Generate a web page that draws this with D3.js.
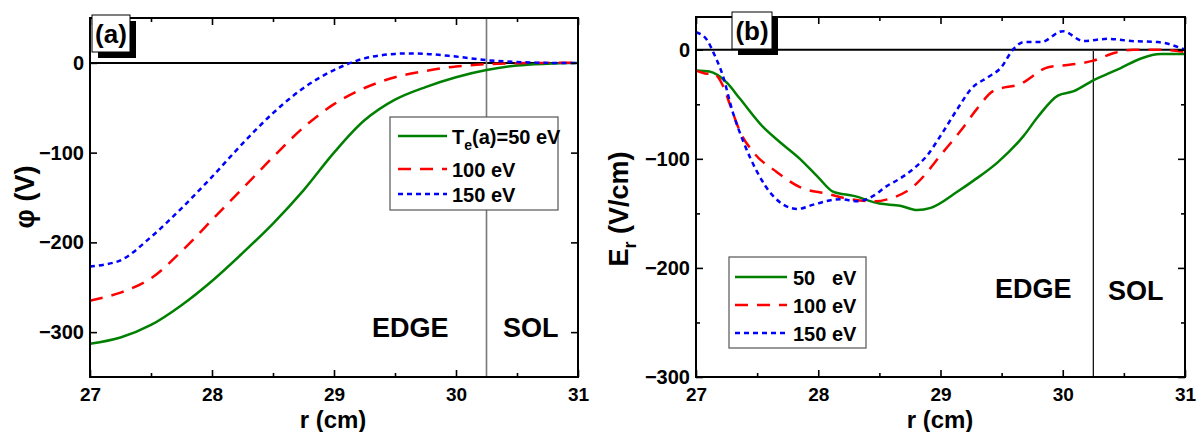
<!DOCTYPE html>
<html><head><meta charset="utf-8">
<script src="https://cdn.jsdelivr.net/npm/d3@7"></script>
<style>
body{margin:0;background:#fff;}
text{font-family:"Liberation Sans",Arial,sans-serif;font-weight:bold;fill:#000;}
</style></head>
<body><svg id="c" width="1198" height="432"></svg>
<script>
// ---------- DATA ----------
// panel (a): potential phi (V) vs r (cm)
const rA = [27,27.25,27.5,27.75,28,28.25,28.5,28.75,29,29.25,29.5,29.75,30,30.25,30.5,30.75,31];
const phi50  = [-313,-306,-292,-270,-243,-212,-179,-142,-100,-64,-41,-27,-16,-8,-3,-1,0];
const phi100 = [-265,-256,-240,-210,-175,-140,-105,-72,-46,-28,-16,-9,-4,-1.5,-0.5,0,0];
const phi150 = [-227,-220,-194,-162,-127,-90,-56,-28,-8,5,10,10,7,3,1,0,0];
// panel (b): radial field Er (V/cm) vs r (cm)
const rB50  = [27,27.11,27.25,27.36,27.55,27.69,27.85,28.0,28.12,28.29,28.5,28.67,28.81,28.92,29.14,29.27,29.47,29.68,29.8,29.96,30.09,30.25,30.37,30.47,30.64,30.8,31];
const er50  = [-19,-20,-30,-45,-71,-85,-100,-117,-130,-134,-141,-143,-147,-145,-130,-120,-103,-79,-61,-42,-38,-28,-22,-17,-8,-4,-4];
const rB100 = [27,27.09,27.14,27.22,27.28,27.36,27.47,27.66,27.85,28.07,28.26,28.45,28.6,28.72,28.81,29.02,29.16,29.3,29.43,29.66,29.88,30.04,30.25,30.42,30.58,30.8,31];
const er100 = [-19,-22,-22,-33,-51,-75,-94,-112,-126,-132,-137,-139,-136,-130,-122,-94,-75,-54,-38,-31,-16,-14,-10,-3,0,0,-2];
const rB150 = [27,27.09,27.14,27.22,27.3,27.39,27.5,27.63,27.83,27.96,28.18,28.32,28.45,28.56,28.67,28.78,28.89,29,29.14,29.25,29.39,29.49,29.6,29.68,29.82,30,30.17,30.37,30.56,30.78,31];
const er150 = [16,9,-2,-24,-57,-85,-112,-134,-146,-142,-137,-139,-134,-125,-118,-109,-97,-79,-54,-36,-25,-17,1,7,7,17,8,10,8,7,0];
const xTicks = [27,28,29,30,31];
const yTicksA = [0,-100,-200,-300];
const yTicksB = [0,-100,-200,-300];
const legendA = ["=50 eV","100 eV","150 eV"];
const legendB = ["50   eV","100 eV","150 eV"];
const boundaryR = 30.25;

// ---------- STYLES ----------
const colors = ["#008000","#ff0000","#0000ff"];
const dashes = [null,"13,9","5,4"];

const svg = d3.select("#c");

function panel(cfg){
  const g = svg.append("g");
  const x = d3.scaleLinear().domain([27,31]).range([cfg.x0,cfg.x1]);
  const y = d3.scaleLinear().domain(cfg.ydom).range([cfg.y1,cfg.y0]);

  g.append("line").attr("x1",x(27)).attr("x2",x(31)).attr("y1",y(0)).attr("y2",y(0))
    .attr("stroke","#000").attr("stroke-width",2);
  g.append("line").attr("x1",x(boundaryR)).attr("x2",x(boundaryR)).attr("y1",cfg.y1).attr("y2",cfg.bTop)
    .attr("stroke",cfg.bColor).attr("stroke-width",cfg.bW);

  const line = d3.line().x(d=>x(d[0])).y(d=>y(d[1])).curve(cfg.curve);
  cfg.series.forEach((s,i)=>{
    g.append("path").datum(s[0].map((r,j)=>[r,s[1][j]]))
      .attr("d",line).attr("fill","none").attr("stroke",colors[i])
      .attr("stroke-width",2.5).attr("stroke-dasharray",dashes[i]);
  });

  const majX = xTicks, minX = d3.range(27.5,31,1);
  const majY = cfg.yTicks, minY = d3.range(cfg.ydom[0]+50, cfg.ydom[1], 100).filter(v=>v%100!==0);
  const mk = (ax, sel) => { sel.call(ax); sel.select(".domain").remove(); sel.selectAll(".tick line").attr("stroke","#000").attr("stroke-width",1.6); return sel;};
  const gb = mk(d3.axisBottom(x).tickValues(majX).tickSize(-7).tickFormat(d3.format("d")),
     g.append("g").attr("transform",`translate(0,${cfg.y1})`));
  gb.selectAll("text").attr("font-size",19).attr("dy",null).attr("y",24);
  mk(d3.axisBottom(x).tickValues(minX).tickSize(-4).tickFormat(""), g.append("g").attr("transform",`translate(0,${cfg.y1})`));
  mk(d3.axisTop(x).tickValues(majX).tickSize(-7).tickFormat(""), g.append("g").attr("transform",`translate(0,${cfg.y0})`));
  mk(d3.axisTop(x).tickValues(minX).tickSize(-4).tickFormat(""), g.append("g").attr("transform",`translate(0,${cfg.y0})`));
  const gl = mk(d3.axisLeft(y).tickValues(majY).tickSize(-7).tickPadding(6).tickFormat(d=>d===0?"0":d3.format("d")(d)),
     g.append("g").attr("transform",`translate(${cfg.x0},0)`));
  gl.selectAll("text").attr("font-size",20);
  mk(d3.axisLeft(y).tickValues(minY).tickSize(-4).tickFormat(""), g.append("g").attr("transform",`translate(${cfg.x0},0)`));
  mk(d3.axisRight(y).tickValues(majY).tickSize(-7).tickFormat(""), g.append("g").attr("transform",`translate(${cfg.x1},0)`));
  mk(d3.axisRight(y).tickValues(minY).tickSize(-4).tickFormat(""), g.append("g").attr("transform",`translate(${cfg.x1},0)`));
  g.append("rect").attr("x",cfg.x0).attr("y",cfg.y0).attr("width",cfg.x1-cfg.x0).attr("height",cfg.y1-cfg.y0)
    .attr("fill","none").attr("stroke","#000").attr("stroke-width",2);

  const L = cfg.lab;
  g.append("rect").attr("x",L.x+6).attr("y",L.y+6).attr("width",L.w).attr("height",L.h).attr("fill","#000");
  g.append("rect").attr("x",L.x).attr("y",L.y).attr("width",L.w).attr("height",L.h).attr("fill","#fff").attr("stroke","#000").attr("stroke-width",1);
  g.append("text").attr("x",L.x+L.w/2).attr("y",L.base).attr("text-anchor","middle").attr("font-size",26).text(L.t);

  g.append("text").attr("x",cfg.edge[0]).attr("y",cfg.edge[1]).attr("font-size",27).text("EDGE");
  g.append("text").attr("x",cfg.sol[0]).attr("y",cfg.sol[1]).attr("font-size",27).text("SOL");

  g.append("text").attr("x",cfg.xt).attr("y",428).attr("text-anchor","middle").attr("font-size",24).text("r (cm)");

  const lg = cfg.leg;
  g.append("rect").attr("x",lg.x).attr("y",lg.y).attr("width",lg.w).attr("height",lg.h)
    .attr("fill","#fff").attr("stroke","#555").attr("stroke-width",1.2);
  lg.rows.forEach((ry,i)=>{
    g.append("line").attr("x1",lg.lx0).attr("x2",lg.lx1).attr("y1",ry).attr("y2",ry)
      .attr("stroke",colors[i]).attr("stroke-width",2.5).attr("stroke-dasharray",dashes[i]);
    const t = g.append("text").attr("x",lg.tx).attr("y",ry+8).attr("font-size",20).style("white-space","pre");
    if(i===0 && cfg.teLabel){
      t.append("tspan").text("T");
      t.append("tspan").attr("font-size",14).attr("dy",6).text("e");
      t.append("tspan").attr("dy",-6).text("(a)" + lg.labels[0]);
    } else t.text(lg.labels[i]);
  });
  return g;
}

panel({x0:90,x1:578,y0:18,y1:377,ydom:[-350,50],yTicks:yTicksA,
  series:[[rA,phi50],[rA,phi100],[rA,phi150]],curve:d3.curveCatmullRom,
  bTop:18,bColor:"#777",bW:1.6,
  lab:{x:92,y:15,w:38,h:37,base:43,t:"(a)"},
  edge:[372,337],sol:[503,337],xt:333,
  leg:{x:390,y:117,w:168,h:93,rows:[136,169,194],lx0:398,lx1:447,tx:452,labels:legendA},
  teLabel:true});

panel({x0:696,x1:1185,y0:17,y1:377,ydom:[-300,30],yTicks:yTicksB,
  series:[[rB50,er50],[rB100,er100],[rB150,er150]],curve:d3.curveMonotoneX,
  bTop:51,bColor:"#000",bW:1.2,
  lab:{x:732,y:12,w:40,h:37,base:40,t:"(b)"},
  edge:[995,298],sol:[1108,300],xt:940,
  leg:{x:729,y:257,w:137,h:91,rows:[277,305,333],lx0:735,lx1:787,tx:793,labels:legendB},
  teLabel:false});

svg.append("text").attr("transform","translate(34,197) rotate(-90)").attr("text-anchor","middle").attr("font-size",27).text("φ (V)");
const et = svg.append("text").attr("transform","translate(628,209) rotate(-90)").attr("text-anchor","middle").attr("font-size",27);
et.append("tspan").text("E");
et.append("tspan").attr("font-size",18).attr("dy",8).text("r");
et.append("tspan").attr("dy",-8).text(" (V/cm)");
</script></body></html>
